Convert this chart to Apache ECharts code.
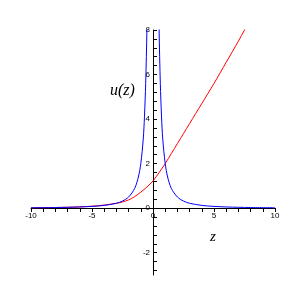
<!DOCTYPE html>
<html><head><meta charset="utf-8">
<script src="https://cdn.jsdelivr.net/npm/echarts@6/dist/echarts.min.js"></script>
<style>html,body{margin:0;padding:0;background:#fff}#c{width:306px;height:306px}</style>
</head><body><div id="c"></div>
<script>
// Red curve readings
var zRed = [-10,-9,-8,-7,-6,-5,-4,-3,-2.5,-2,-1.5,-1,-0.5,0,0.5,1,1.5,2,2.5,3,3.5,4,5,6,7,7.5,8];
var uRed = [0.02,0.025,0.03,0.04,0.06,0.09,0.14,0.22,0.28,0.37,0.52,0.72,0.95,1.22,1.6,2.0,2.45,2.9,3.35,3.8,4.25,4.7,5.6,6.55,7.5,8.0,8.5];
// Blue curve readings (two branches, break at the pole)
var zBlue = [-10,-8,-7,-6,-5,-4,-3,-2.5,-2,-1.5,-1.2,-1,-0.8,-0.7,-0.6,-0.5,-0.45,null,0.45,0.5,0.6,0.7,0.8,1,1.2,1.5,2,2.5,3,4,5,6,7,8,10];
var uBlue = [0.02,0.03,0.04,0.055,0.08,0.125,0.22,0.32,0.5,0.89,1.4,2.0,3.1,4.1,5.6,8.0,9.9,null,9.9,8.0,5.6,4.1,3.1,2.0,1.4,0.89,0.5,0.32,0.22,0.125,0.08,0.055,0.04,0.03,0.02];
var xTicks = [-10,-9,-8,-7,-6,-5,-4,-3,-2,-1,0,1,2,3,4,5,6,7,8,9,10];
var xLabels = [-10,-5,0,5,10];
var yTicks = [-2.8,-2.4,-2,-1.6,-1.2,-0.8,-0.4,0,0.4,0.8,1.2,1.6,2,2.4,2.8,3.2,3.6,4,4.4,4.8,5.2,5.6,6,6.4,6.8,7.2,7.6,8];
var yLabels = [-2,0,2,4,6,8];

function pairs(xs, ys){ return xs.map(function(x,i){ return x===null ? [null,null] : [x, ys[i]]; }); }

var chart = echarts.init(document.getElementById('c'), null, {renderer:'canvas'});
chart.setOption({
  animation:false,
  backgroundColor:'#fff',
  grid:{left:31,right:31,top:30,bottom:31,containLabel:false},
  xAxis:{type:'value',min:-10,max:10,position:'bottom',offset:-67,
    axisLine:{onZero:false,lineStyle:{color:'#000',width:1}},
    axisTick:{show:true,length:4,customValues:xTicks,lineStyle:{color:'#000'}},
    axisLabel:{customValues:xLabels,fontSize:8,color:'#000',margin:4,fontFamily:'Liberation Sans'},
    splitLine:{show:false}},
  yAxis:{type:'value',min:-3,max:8,position:'left',offset:-122,
    axisLine:{onZero:false,lineStyle:{color:'#000',width:1}},
    axisTick:{show:true,inside:true,length:4,customValues:yTicks,lineStyle:{color:'#000'}},
    axisLabel:{customValues:yLabels,fontSize:8,color:'#000',margin:3,fontFamily:'Liberation Sans'},
    splitLine:{show:false}},
  series:[
    {type:'line',data:pairs(zRed,uRed),showSymbol:false,smooth:0.3,clip:true,
     lineStyle:{color:'#ff0000',width:1}},
    {type:'line',data:pairs(zBlue,uBlue),showSymbol:false,smooth:0.3,clip:true,connectNulls:false,
     lineStyle:{color:'#0000ff',width:1}}
  ],
  graphic:[
    {type:'text',left:110,top:83,style:{text:'u(z)',font:'italic 16px "Liberation Serif"',fill:'#000'}},
    {type:'text',left:210,top:230,style:{text:'z',font:'italic 15px "Liberation Serif"',fill:'#000'}}
  ]
});
</script></body></html>
